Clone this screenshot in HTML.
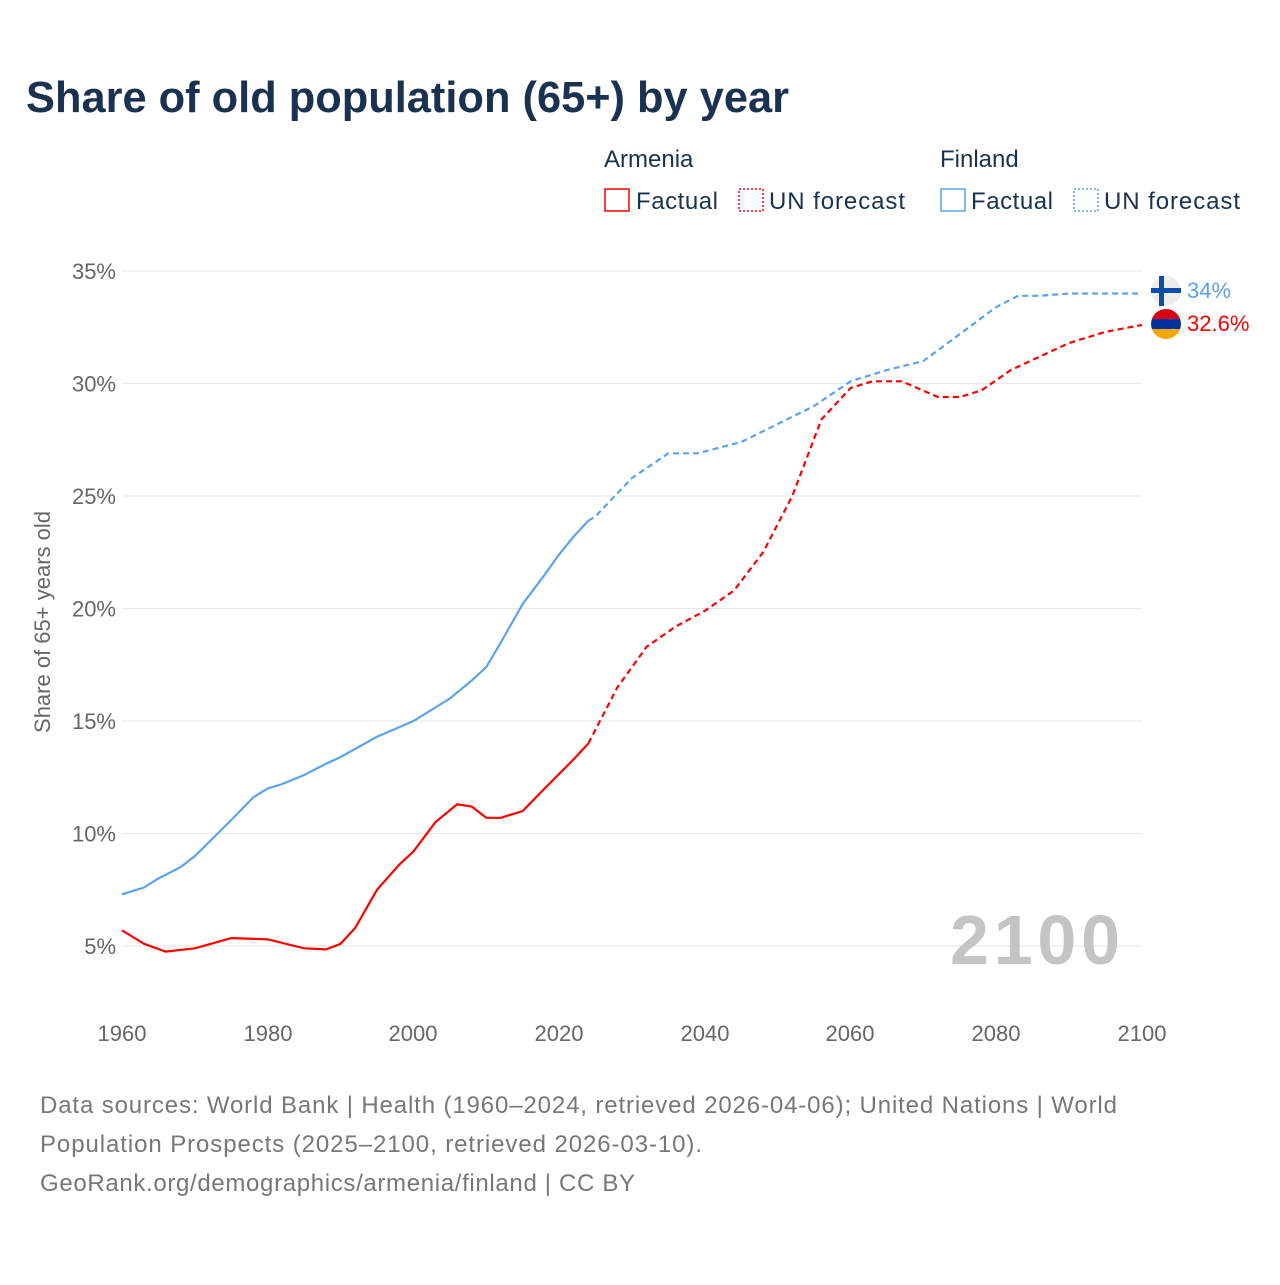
<!DOCTYPE html>
<html><head><meta charset="utf-8"><style>
body{margin:0;background:#fff;font-family:"Liberation Sans",sans-serif;}
</style></head><body>
<svg id="s" width="1280" height="1280" xmlns="http://www.w3.org/2000/svg" font-family="Liberation Sans, sans-serif">
<text x="26" y="112" font-size="44" font-weight="bold" fill="#1a3150" textLength="763" lengthAdjust="spacingAndGlyphs">Share of old population (65+) by year</text>
<text x="604" y="167" font-size="24" fill="#1a3150">Armenia</text>
<text x="940" y="167" font-size="24" fill="#1a3150">Finland</text>
<rect x="605" y="189" width="24" height="22" fill="none" stroke="#f00" stroke-width="1.5"/>
<text x="636" y="209" font-size="24" fill="#1a3150" textLength="82">Factual</text>
<rect x="739" y="189" width="24" height="22" fill="none" stroke="#f00" stroke-width="1.5" stroke-dasharray="2,2"/>
<text x="769" y="209" font-size="24" fill="#1a3150" textLength="136">UN forecast</text>
<rect x="941" y="189" width="24" height="22" fill="none" stroke="#5ba3ea" stroke-width="1.5"/>
<text x="971" y="209" font-size="24" fill="#1a3150" textLength="82">Factual</text>
<rect x="1074" y="189" width="24" height="22" fill="none" stroke="#5ba3ea" stroke-width="1.5" stroke-dasharray="2,2"/>
<text x="1104" y="209" font-size="24" fill="#1a3150" textLength="136">UN forecast</text>
<g id="grid" stroke="#e6e6e6" stroke-width="1"></g>
<g id="yl" font-size="22" fill="#666" text-anchor="end"></g>
<text transform="translate(50,622) rotate(-90)" font-size="22" fill="#666" text-anchor="middle">Share of 65+ years old</text>
<g font-size="22" fill="#666" text-anchor="middle">
<text x="122" y="1041">1960</text><text x="268" y="1041">1980</text><text x="413" y="1041">2000</text><text x="559" y="1041">2020</text><text x="705" y="1041">2040</text><text x="850" y="1041">2060</text><text x="996" y="1041">2080</text><text x="1142" y="1041">2100</text>
</g>
<text x="1120" y="964" font-size="70" font-weight="bold" fill="#c4c4c4" text-anchor="end" textLength="170">2100</text>
<g id="lines" fill="none" stroke-width="2.2"></g>
<circle cx="1166" cy="291" r="15" fill="#eee"/>
<rect x="1151" y="288" width="30" height="5" fill="#0b4fa8"/>
<rect x="1159" y="276" width="5" height="30" fill="#0b4fa8"/>
<clipPath id="c"><circle cx="1166" cy="324" r="15"/></clipPath>
<g clip-path="url(#c)"><rect x="1150" y="309" width="32" height="10" fill="#d90012"/><rect x="1150" y="319" width="32" height="10" fill="#0033a0"/><rect x="1150" y="329" width="32" height="11" fill="#f2a800"/></g>
<text x="1187" y="298" font-size="22" fill="#5ba3ea">34%</text>
<text x="1187" y="331" font-size="22" fill="#f00">32.6%</text>
<g font-size="24" fill="#777">
<text x="40" y="1113" textLength="1077">Data sources: World Bank | Health (1960–2024, retrieved 2026-04-06); United Nations | World</text>
<text x="40" y="1152" textLength="662">Population Prospects (2025–2100, retrieved 2026-03-10).</text>
<text x="40" y="1191" textLength="595">GeoRank.org/demographics/armenia/finland | CC BY</text>
</g>
</svg>
<script>
const NS="http://www.w3.org/2000/svg";
const X=y=>122+(y-1960)*1020/140, Y=v=>271+(35-v)*22.5;
const g=document.getElementById('grid'), yl=document.getElementById('yl');
for(let v=5;v<=35;v+=5){const l=document.createElementNS(NS,'line');l.setAttribute('x1',122);l.setAttribute('x2',1142);l.setAttribute('y1',Y(v));l.setAttribute('y2',Y(v));g.appendChild(l);
const t=document.createElementNS(NS,'text');t.setAttribute('x',116);t.setAttribute('y',Y(v)+8);t.textContent=v+'%';yl.appendChild(t);}
function path(d,col,dash){const p=document.createElementNS(NS,'path');p.setAttribute('d','M'+d.map(a=>X(a[0]).toFixed(1)+','+Y(a[1]).toFixed(1)).join('L'));p.setAttribute('stroke',col);if(dash)p.setAttribute('stroke-dasharray','6,4');document.getElementById('lines').appendChild(p);}
path([[1960,7.3],[1963,7.6],[1965,8.0],[1968,8.5],[1970,9.0],[1975,10.6],[1978,11.6],[1980,12.0],[1982,12.2],[1985,12.6],[1988,13.1],[1990,13.4],[1995,14.3],[2000,15.0],[2005,16.0],[2008,16.8],[2010,17.4],[2012,18.5],[2015,20.2],[2018,21.5],[2020,22.4],[2022,23.2],[2024,23.9]],'#5ba3ea');
path([[2024,23.9],[2025,24.1],[2030,25.8],[2035,26.9],[2039,26.9],[2045,27.4],[2050,28.2],[2055,29.0],[2060,30.1],[2065,30.6],[2070,31.0],[2075,32.2],[2080,33.4],[2083,33.9],[2086,33.9],[2090,34.0],[2100,34.0]],'#5ba3ea',1);
path([[1960,5.7],[1963,5.1],[1966,4.75],[1970,4.9],[1975,5.35],[1980,5.3],[1985,4.9],[1988,4.85],[1990,5.1],[1992,5.8],[1995,7.5],[1998,8.6],[2000,9.2],[2003,10.5],[2006,11.3],[2008,11.2],[2010,10.7],[2012,10.7],[2015,11.0],[2018,12.0],[2022,13.3],[2024,14.0]],'#f00');
path([[2024,14.0],[2028,16.5],[2032,18.3],[2036,19.2],[2040,19.9],[2044,20.8],[2048,22.5],[2052,25.0],[2056,28.4],[2060,29.8],[2063,30.1],[2067,30.1],[2072,29.4],[2075,29.4],[2078,29.7],[2082,30.6],[2086,31.2],[2090,31.8],[2095,32.3],[2100,32.6]],'#f00',1);
</script>
</body></html>
